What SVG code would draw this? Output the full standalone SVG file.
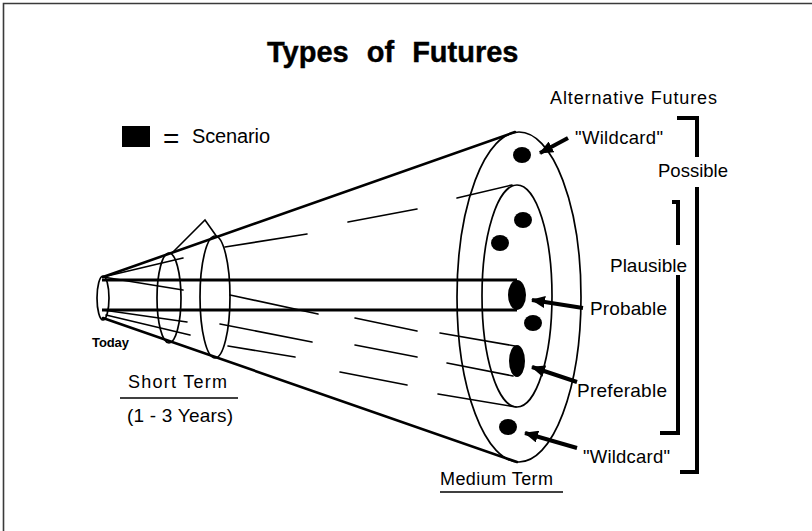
<svg xmlns="http://www.w3.org/2000/svg" width="812" height="531" viewBox="0 0 812 531">
<style>
text{font-family:"Liberation Sans",Arial,Helvetica,sans-serif;fill:#000}
.lbl{font-size:19px}
.thin{fill:none;stroke:#000;stroke-width:1.6;stroke-linecap:round}
.edge{fill:none;stroke:#000;stroke-width:2.6;stroke-linecap:round}
.tube{fill:none;stroke:#000;stroke-width:3.2}
.ring{fill:none;stroke:#000;stroke-width:1.7}
.dot{fill:#000}
.brk{fill:none;stroke:#000;stroke-width:4}
.arr{fill:none;stroke:#000;stroke-width:4}
</style>
<defs>
<marker id="ah" markerUnits="userSpaceOnUse" markerWidth="14" markerHeight="12" refX="13" refY="6" orient="auto">
<path d="M0,0 L14,6 L0,12 z" fill="#000"/>
</marker>
</defs>
<rect x="0" y="0" width="812" height="531" fill="#fff"/>
<path d="M3.5,531 V3.5 H812" fill="none" stroke="#3a3a3a" stroke-width="1.6"/>

<g id="title"><text x="267" y="62" font-size="29" font-weight="bold" word-spacing="10" stroke="#000" stroke-width="0.4">Types of Futures</text></g>

<g id="legend">
<rect x="122" y="126" width="28" height="21" fill="#000"/>
<text x="163" y="148" font-size="28">=</text>
<text x="192" y="143" font-size="20" textLength="78">Scenario</text>
</g>

<g id="cone">
<line class="edge" x1="103" y1="277" x2="515" y2="132"/>
<line class="edge" x1="103" y1="318" x2="517" y2="462"/>
<ellipse class="ring" cx="103" cy="298" rx="6" ry="22"/>
<line class="thin" x1="103" y1="277" x2="183" y2="290"/>
<line class="thin" x1="103" y1="277" x2="183" y2="258"/>
<line class="thin" x1="103" y1="310" x2="187" y2="322"/>
<line class="thin" x1="106" y1="315" x2="190" y2="335"/>
<polyline class="thin" points="172,253 205,220 217,237"/>
</g>

<g id="short-term-rings">
<ellipse class="ring" cx="169" cy="298" rx="12" ry="45"/>
<ellipse class="ring" cx="215" cy="297" rx="15" ry="61"/>
</g>

<g id="medium-term-rings">
<ellipse class="ring" cx="519" cy="297" rx="62" ry="165"/>
<ellipse class="ring" cx="517" cy="296" rx="35" ry="111"/>
</g>

<g id="dashes">
<line class="thin" x1="225" y1="247" x2="307" y2="234"/>
<line class="thin" x1="348" y1="222" x2="417" y2="209"/>
<line class="thin" x1="457" y1="198" x2="512" y2="185"/>
<line class="thin" x1="230" y1="295" x2="318" y2="314"/>
<line class="thin" x1="220" y1="324" x2="312" y2="342"/>
<line class="thin" x1="228" y1="346" x2="295" y2="357"/>
<line class="thin" x1="355" y1="318" x2="417" y2="331"/>
<line class="thin" x1="355" y1="345" x2="417" y2="357"/>
<line class="thin" x1="340" y1="372" x2="407" y2="385"/>
<line class="thin" x1="440" y1="333" x2="515" y2="346"/>
<line class="thin" x1="447" y1="363" x2="513" y2="376"/>
<line class="thin" x1="438" y1="394" x2="516" y2="407"/>
</g>

<g id="probable-tube">
<line class="tube" x1="102" y1="280" x2="517" y2="280"/>
<line class="tube" x1="102" y1="310" x2="517" y2="310"/>
</g>

<g id="scenarios">
<ellipse class="dot" cx="522" cy="155" rx="9" ry="8"/>
<ellipse class="dot" cx="523" cy="220" rx="9" ry="8"/>
<ellipse class="dot" cx="500" cy="243" rx="9" ry="8"/>
<ellipse class="dot" cx="517" cy="295" rx="9" ry="15"/>
<ellipse class="dot" cx="533" cy="323" rx="9" ry="8"/>
<ellipse class="dot" cx="517" cy="361" rx="8" ry="16"/>
<ellipse class="dot" cx="508" cy="427" rx="9" ry="8"/>
</g>

<g id="connectors">
<line class="arr" x1="568" y1="138" x2="540" y2="153" marker-end="url(#ah)"/>
<line class="arr" x1="583" y1="308" x2="532" y2="300" marker-end="url(#ah)"/>
<line class="arr" x1="577" y1="382" x2="532" y2="367" marker-end="url(#ah)"/>
<line class="arr" x1="577" y1="448" x2="525" y2="433" marker-end="url(#ah)"/>
</g>

<g id="brackets">
<path class="brk" d="M677,118 H697 V157 M697,187 V472 H680"/>
<path class="brk" d="M672,202 H678 V245 M678,275 V433 H660"/>
</g>

<g id="labels">
<text x="550" y="104" font-size="18" textLength="167">Alternative Futures</text>
<text x="575" y="144" font-size="18.5" textLength="88">"Wildcard"</text>
<text x="658" y="177" font-size="18.5" textLength="70">Possible</text>
<text x="610" y="272" class="lbl" textLength="77">Plausible</text>
<text x="590" y="315" class="lbl" textLength="77">Probable</text>
<text x="577" y="397" class="lbl" textLength="90">Preferable</text>
<text x="583" y="463" font-size="18.5" textLength="87">"Wildcard"</text>
<text x="440" y="485" font-size="18" textLength="113">Medium Term</text>
<line x1="440" y1="492" x2="563" y2="492" stroke="#000" stroke-width="1.6"/>
<text x="128" y="388" font-size="18" textLength="99">Short Term</text>
<line x1="120" y1="398" x2="238" y2="398" stroke="#000" stroke-width="1.6"/>
<text x="127" y="422" class="lbl" textLength="106">(1 - 3 Years)</text>
<text x="92" y="347" font-size="13" font-weight="bold" textLength="37">Today</text>
</g>
</svg>
